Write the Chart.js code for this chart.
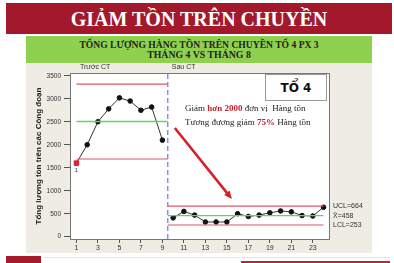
<!DOCTYPE html>
<html>
<head>
<meta charset="utf-8">
<script src="https://cdn.jsdelivr.net/npm/chart.js@4/dist/chart.umd.min.js"></script>
<style>
  body { margin: 0; width: 394px; height: 263px; background: #fff; position: relative; overflow: hidden; }
  .banner { position: absolute; left: 6px; top: 3px; width: 386px; height: 31px; background: #a3192b;
    color: #fff; font: bold 20px "Liberation Serif", serif; text-align: center; line-height: 32px; }
  .sub { position: absolute; left: 26px; top: 36px; width: 346px; height: 27px; background: #8fd14f;
    color: #222; font: bold 9.6px "Liberation Serif", serif; text-align: center; line-height: 10px; padding-top: 4px; box-sizing: border-box; }
  .sub .l2 { font-size: 9.8px; }
  .panel { position: absolute; left: 26px; top: 63px; width: 346px; height: 190px; background: #eeece3; }
  #chart { position: absolute; left: 27px; top: 63px; }
  .to4 { position: absolute; left: 265px; top: 74px; width: 60px; height: 25px; background: #fff; border: 1px solid #999;
    font: bold 12px "DejaVu Sans", sans-serif; text-align: center; line-height: 26px; color: #111; }
  .note { position: absolute; left: 185px; top: 102px; font: 9px "Liberation Serif", serif; color: #222; line-height: 13.5px; white-space: nowrap; }
  .note b { color: #c8202a; }
  .logo { position: absolute; left: 6px; top: 256px; width: 35px; height: 7px; background: #a51b2b; }
  .foot { position: absolute; left: 43px; top: 257px; width: 347px; height: 1px; background: #e4e4e4; }
  .footbar { position: absolute; left: 241px; top: 261px; width: 149px; height: 2px; background: #b8263a; }
</style>
</head>
<body>
<div class="banner">GIẢM TỒN TRÊN CHUYỀN</div>
<div class="sub">TỔNG LƯỢNG HÀNG TỒN TRÊN CHUYỀN TỔ 4 PX 3<br><span class="l2">THÁNG 4 VS THÁNG 8</span></div>
<div class="panel"></div>
<canvas id="chart" width="345" height="190"></canvas>
<div class="to4">TỔ 4</div>
<div class="note">Giảm <b>hơn 2000</b> đơn vị&nbsp; Hàng tồn<br>Tương đương giảm <b>75%</b> Hàng tồn</div>
<div class="logo"></div>
<div class="foot"></div>
<div class="footbar"></div>
<script>
// sample number and total inventory
const sampleNo = [1, 2, 3, 4, 5, 6, 7, 8, 9, 10, 11, 12, 13, 14, 15, 16, 17, 18, 19, 20, 21, 22, 23, 24];
const inventory = [1600, 2000, 2500, 2780, 3020, 2950, 2750, 2820, 2100,
  410, 550, 470, 320, 320, 320, 500, 440, 470, 520, 560, 540, 460, 450, 640];
const splitAt = 9; // last sample of "Trước CT"

// control limits per phase
const phaseNames = ['Trước CT', 'Sau CT'];
const phaseFrom = [1, 9.5];
const phaseTo = [9.5, 24];
const ucl = [3318, 664];
const centre = [2504, 458];
const lcl = [1690, 253];

const xTicks = [1, 3, 5, 7, 9, 11, 13, 15, 17, 19, 21, 23];
const yTicks = [0, 500, 1000, 1500, 2000, 2500, 3000, 3500];

const pts = sampleNo.map((x, i) => ({ x: x, y: inventory[i] }));
const before = pts.slice(0, splitAt);
const after = pts.slice(splitAt);

const limitSet = (vals, color, w) => vals.map((v, i) => ({
  data: [{ x: phaseFrom[i], y: v }, { x: phaseTo[i], y: v }],
  borderColor: color, borderWidth: w, pointRadius: 0
}));

const lineFont = { family: 'Liberation Sans', size: 7 };

const extras = {
  id: 'extras',
  beforeDatasetsDraw(chart) {
    const { ctx, chartArea: a } = chart;
    ctx.save();
    ctx.fillStyle = '#fff';
    ctx.fillRect(a.left, a.top, a.right - a.left, a.bottom - a.top);
    ctx.restore();
  },
  afterDatasetsDraw(chart) {
    const { ctx, chartArea: a, scales: { x, y } } = chart;
    ctx.save();
    // frame
    ctx.strokeStyle = '#777';
    ctx.lineWidth = 1;
    ctx.strokeRect(a.left + 0.5, a.top + 0.5, a.right - a.left - 1, a.bottom - a.top);
    // phase titles
    ctx.fillStyle = '#333';
    ctx.font = '7px "Liberation Sans"';
    ctx.textBaseline = 'middle';
    ctx.fillText(phaseNames[0], a.left + 10, a.top - 6);
    ctx.fillText(phaseNames[1], x.getPixelForValue(phaseFrom[1]) + 4, a.top - 6);
    // point 1 label
    ctx.font = '6px "Liberation Sans"';
    ctx.textAlign = 'center';
    ctx.fillText('1', x.getPixelForValue(sampleNo[0]), y.getPixelForValue(inventory[0]) + 7);
    // limit labels for last phase
    ctx.font = '7px "Liberation Sans"';
    ctx.textAlign = 'left';
    const lx = a.right + 3;
    ctx.fillText('UCL=' + ucl[1], lx, y.getPixelForValue(ucl[1]));
    ctx.fillText('X̄=' + centre[1], lx, y.getPixelForValue(centre[1]));
    ctx.fillText('LCL=' + lcl[1], lx, y.getPixelForValue(lcl[1]));
    // arrow
    const x0 = x.getPixelForValue(10.16), y0 = y.getPixelForValue(2363);
    const x1 = x.getPixelForValue(15.47), y1 = y.getPixelForValue(820);
    const ang = Math.atan2(y1 - y0, x1 - x0);
    ctx.strokeStyle = '#d3222c';
    ctx.fillStyle = '#d3222c';
    ctx.lineWidth = 2.6;
    ctx.beginPath();
    ctx.moveTo(x0, y0);
    ctx.lineTo(x1 - 6 * Math.cos(ang), y1 - 6 * Math.sin(ang));
    ctx.stroke();
    ctx.beginPath();
    ctx.moveTo(x1, y1);
    ctx.lineTo(x1 - 8 * Math.cos(ang) + 3.5 * Math.sin(ang), y1 - 8 * Math.sin(ang) - 3.5 * Math.cos(ang));
    ctx.lineTo(x1 - 8 * Math.cos(ang) - 3.5 * Math.sin(ang), y1 - 8 * Math.sin(ang) + 3.5 * Math.cos(ang));
    ctx.closePath();
    ctx.fill();
    ctx.restore();
  }
};

new Chart(document.getElementById('chart'), {
  type: 'scatter',
  plugins: [extras],
  data: {
    datasets: [
      ...limitSet(ucl, '#d9566a', 1.1),
      ...limitSet(lcl, '#d9566a', 1.1),
      ...limitSet(centre, '#5fd65f', 1.4),
      {
        data: [{ x: 9.5, y: -50 }, { x: 9.5, y: 3560 }],
        borderColor: '#7d7de0', borderWidth: 1.3, borderDash: [5, 3], pointRadius: 0
      },
      {
        data: before,
        borderColor: '#333', borderWidth: 1,
        pointBackgroundColor: before.map((p, i) => i === 0 ? '#e0202a' : '#111'),
        pointBorderColor: before.map((p, i) => i === 0 ? '#e0202a' : '#111'),
        pointStyle: before.map((p, i) => i === 0 ? 'rect' : 'circle'),
        pointRadius: before.map((p, i) => i === 0 ? 3.2 : 2.3)
      },
      {
        data: after,
        borderColor: '#333', borderWidth: 1,
        pointBackgroundColor: '#111', pointBorderColor: '#111', pointRadius: 2.3
      }
    ].map(d => Object.assign({ showLine: true, tension: 0, clip: false }, d))
  },
  options: {
    responsive: false,
    animation: false,
    events: [],
    layout: { padding: { top: 10, right: 42, left: 0, bottom: 0 } },
    plugins: { legend: { display: false }, tooltip: { enabled: false } },
    scales: {
      x: {
        type: 'linear', min: 0.4, max: 24.6,
        afterBuildTicks: s => { s.ticks = xTicks.map(v => ({ value: v })); },
        afterFit: s => { s.height = 14; },
        grid: { drawOnChartArea: false, drawTicks: true, tickLength: 4, color: '#555' },
        border: { display: false },
        ticks: { font: lineFont, color: '#333', padding: 1, maxRotation: 0, autoSkip: false, callback: v => String(v) }
      },
      y: {
        min: -50, max: 3560,
        afterBuildTicks: s => { s.ticks = yTicks.map(v => ({ value: v })); },
        afterFit: s => { s.width = 43; },
        grid: { drawOnChartArea: false, drawTicks: true, tickLength: 6, color: '#555' },
        border: { display: false },
        ticks: { font: { family: 'Liberation Sans', size: 6.5 }, color: '#333', padding: 3, callback: v => String(v) },
        title: {
          display: true, text: 'Tổng lượng tồn trên các Công đoạn',
          font: { family: 'Liberation Sans', size: 8, weight: 'bold' }, color: '#222',
          padding: { top: 7, bottom: 0 }
        }
      }
    }
  }
});
</script>
</body>
</html>
